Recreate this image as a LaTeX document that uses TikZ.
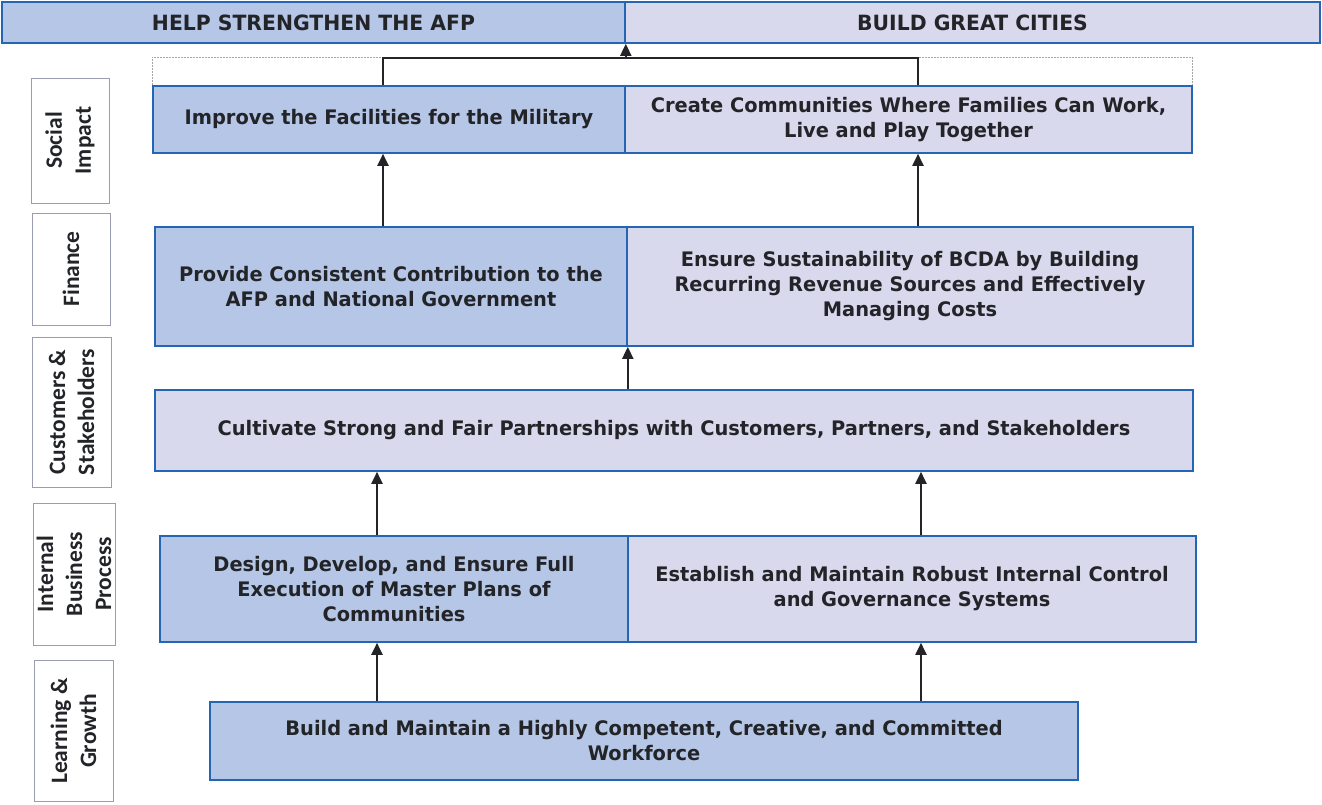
\documentclass[tikz,border=0pt]{standalone}
\usepackage{fontspec}
\setmainfont{DejaVu Sans}[FakeStretch=0.97]
\newfontfamily\lblfont{Carlito}
\usetikzlibrary{arrows.meta}
\definecolor{bfill}{HTML}{B6C6E6}
\definecolor{lfill}{HTML}{D9D9EE}
\definecolor{bdr}{HTML}{2566B4}
\definecolor{gbdr}{HTML}{9A9CB0}
\definecolor{ink}{HTML}{222428}
\tikzset{
  box/.style={draw=bdr, line width=1.6pt, inner sep=0pt, align=center, text=ink,
    font=\bfseries\fontsize{20}{25}\selectfont},
  bluebox/.style={box, fill=bfill},
  lavbox/.style={box, fill=lfill},
  headbox/.style={font=\bfseries\fontsize{21}{25}\selectfont},
  lblbox/.style={draw=gbdr, line width=1pt, rotate=90, align=center, inner sep=0pt, text=ink,
    font=\lblfont\bfseries\fontsize{23.5}{29}\selectfont},
  arr/.style={-{Triangle[length=12pt,width=11pt]}, line width=2pt, draw=ink},
  conn/.style={line width=2pt, draw=ink},
  dashbox/.style={draw=gray!70, line width=0.8pt, dash pattern=on 2pt off 1pt},
}
\begin{document}
\begin{tikzpicture}[x=1pt, y=-1pt]
\useasboundingbox (0,0) rectangle (1322,804);
% top bar
\node[bluebox, headbox, minimum width=623, minimum height=41] (top1) at (313.5,22.5) {HELP STRENGTHEN THE AFP};
\node[lavbox, headbox, minimum width=695, minimum height=41] (top2) at (972.5,22.5) {BUILD GREAT CITIES};
% left labels
\node[lblbox, minimum width=125, minimum height=78] (l1) at (70,140.5) {Social\\Impact};
\node[lblbox, minimum width=112, minimum height=78] (l2) at (71,269) {Finance};
\node[lblbox, minimum width=150, minimum height=79] (l3) at (71.5,412) {Customers \&\\Stakeholders};
\node[lblbox, minimum width=142, minimum height=82] (l4) at (74,574) {Internal\\Business\\Process};
\node[lblbox, minimum width=141, minimum height=79] (l5) at (73.5,731) {Learning \&\\Growth};
% social impact
\node[bluebox, minimum width=472, minimum height=67] (si1) at (389,119.5) {Improve the Facilities for the Military};
\node[lavbox, minimum width=567, minimum height=67] (si2) at (908.5,119.5) {Create Communities Where Families Can Work,\\Live and Play Together};
% finance
\node[bluebox, minimum width=472, minimum height=119] (fin1) at (391,286.5) {Provide Consistent Contribution to the\\AFP and National Government};
\node[lavbox, minimum width=566, minimum height=119] (fin2) at (910,286.5) {Ensure Sustainability of BCDA by Building\\Recurring Revenue Sources and Effectively\\Managing Costs};
% customers
\node[lavbox, minimum width=1038, minimum height=81] (cust) at (674,430.5) {Cultivate Strong and Fair Partnerships with Customers, Partners, and Stakeholders};
% internal business process
\node[bluebox, minimum width=468, minimum height=106] (ibp1) at (394,589) {Design, Develop, and Ensure Full\\Execution of Master Plans of\\Communities};
\node[lavbox, minimum width=568, minimum height=106] (ibp2) at (912,589) {Establish and Maintain Robust Internal Control\\and Governance Systems};
% learning & growth
\node[bluebox, minimum width=868, minimum height=78] (lg) at (644,741) {Build and Maintain a Highly Competent, Creative, and Committed\\Workforce};
% dashed frame over social impact
\draw[dashbox] (si1.north west) -- ([yshift=28pt]si1.north west) -- ([yshift=28pt]si2.north east) -- (si2.north east);
% connectors
\coordinate (cL) at (383,0);
\coordinate (cR) at (918,0);
\coordinate (dL) at (377,0);
\coordinate (dR) at (921,0);
\coordinate (jL) at (383,58);
\coordinate (jR) at (918,58);
\draw[conn] (cL |- si1.north) -- (jL) -- (jR) -- (cR |- si2.north);
\draw[arr] (top1.south east |- jL) -- (top1.south east);
\draw[arr] (cL |- fin1.north) -- (cL |- si1.south);
\draw[arr] (cR |- fin2.north) -- (cR |- si2.south);
\draw[arr] (fin1.south east |- cust.north) -- (fin1.south east);
\draw[arr] (dL |- ibp1.north) -- (dL |- cust.south);
\draw[arr] (dR |- ibp2.north) -- (dR |- cust.south);
\draw[arr] (dL |- lg.north) -- (dL |- ibp1.south);
\draw[arr] (dR |- lg.north) -- (dR |- ibp2.south);
\end{tikzpicture}
\end{document}
